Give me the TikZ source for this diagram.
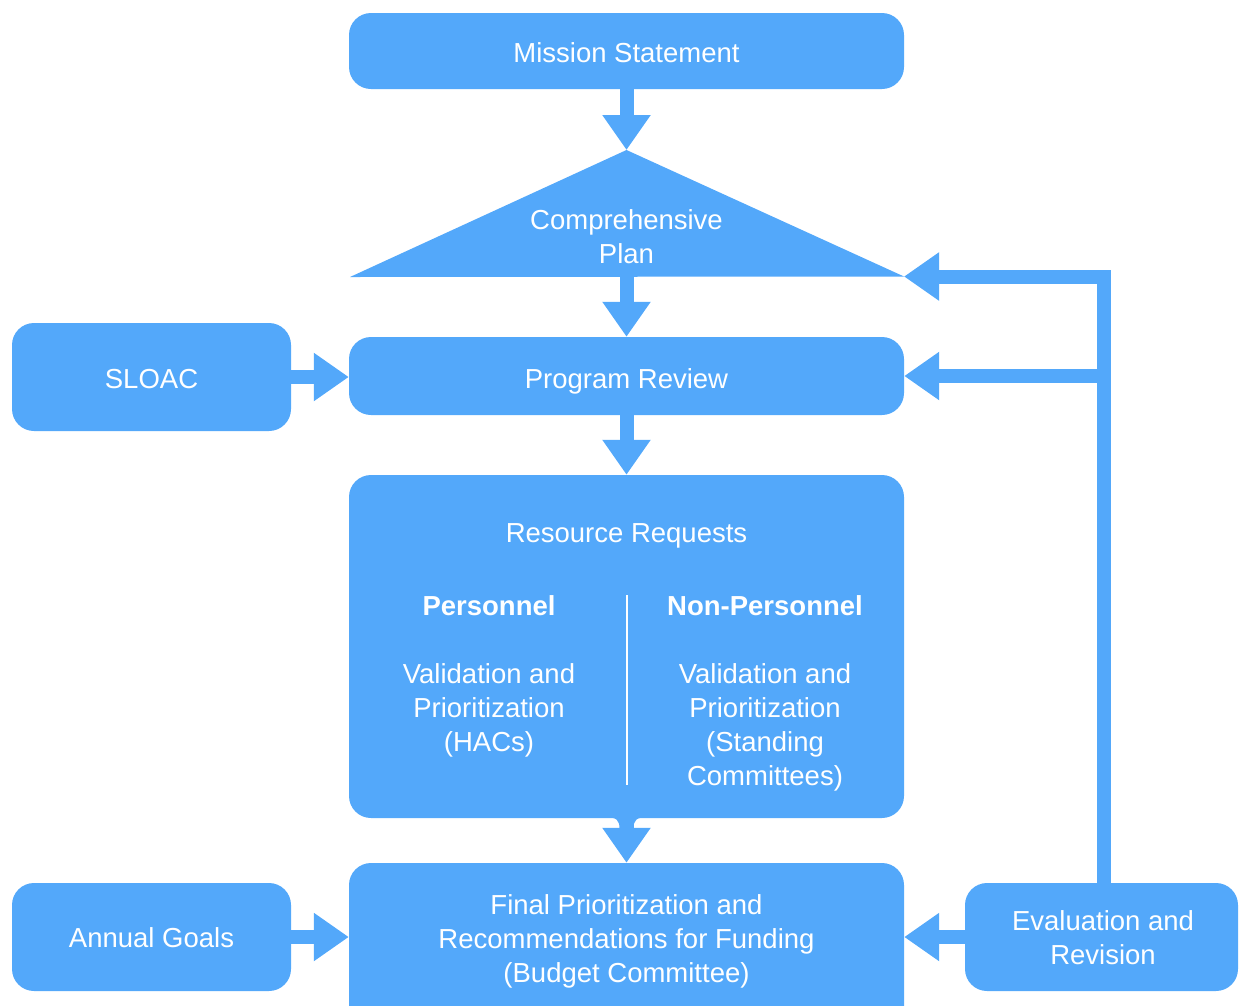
\documentclass[tikz,border=0pt]{standalone}
\usepackage{fontspec}
\setmainfont{Liberation Sans}
\usetikzlibrary{arrows.meta,calc}
\definecolor{fc}{HTML}{53A8FA}
\begin{document}
\begin{tikzpicture}[x=1pt,y=-1pt,
  box/.style={fill=fc, rounded corners=22pt, inner sep=0pt},
  lbl/.style={text=white, align=center, inner sep=0pt, font=\fontsize{27.5}{34}\selectfont},
  blbl/.style={lbl, font=\fontsize{27.5}{34}\selectfont\bfseries},
  flow/.style={draw=fc, line width=14pt, -{Triangle[width=46pt,length=35pt]}, line join=miter}]
\useasboundingbox (0,0) rectangle (1241,1005);
\clip (0,0) rectangle (1241,1005);

% boxes
\node[box, minimum width=555pt, minimum height=76pt] (ms) at (626.5,51) {};
\node[lbl] (mst) at (626.5,53) {Mission Statement};
\coordinate (apex) at (626.5,150);
\coordinate (tl) at (350,277);
\coordinate (tr) at (904,276.5);
\coordinate (tb) at (626.5,277);
\fill[fc] (apex) -- (tr) -- (tl) -- cycle;
\node[lbl] (cp) at (626.5,237) {Comprehensive\\Plan};

\node[box, minimum width=555pt, minimum height=78pt] (pr) at (626.5,376) {};
\node[lbl] (prt) at (626.5,381) {Program Review};
\node[box, minimum width=279pt, minimum height=108pt] (sl) at (151.5,377) {};
\node[lbl] (slt) at (151.5,379) {SLOAC};

\node[box, minimum width=555pt, minimum height=343pt] (rr) at (626.5,646.5) {};
\node[lbl] (rrt) at (626.5,536) {Resource Requests};
\node[blbl] (pers) at (489,606) {Personnel};
\node[blbl] (npers) at (765,606) {Non-Personnel};
\node[lbl, anchor=north] (pv) at (489,663) {Validation and\\Prioritization\\(HACs)};
\node[lbl, anchor=north] (npv) at (765,663) {Validation and\\Prioritization\\(Standing\\Committees)};
\coordinate (dv1) at (627,595);
\coordinate (dv2) at (627,785);
\draw[white, line width=1.5pt] (dv1) -- (dv2);
% fillets where the shaft leaves the box
\fill[fc] (604,817) .. controls (617,817) and (619.5,820) .. (619.5,829) -- (633.5,829) .. controls (633.5,820) and (636,817) .. (649,817) -- cycle;

\node[box, minimum width=555pt, minimum height=167pt] (fin) at (626.5,946.5) {};
\node[lbl] (fint) at (626.5,941) {Final Prioritization and\\Recommendations for Funding\\(Budget Committee)};
\node[box, minimum width=279pt, minimum height=108pt] (ag) at (151.5,937) {};
\node[lbl] (agt) at (151.5,938) {Annual Goals};
\node[box, minimum width=273pt, minimum height=108pt] (ev) at (1101.5,937) {};
\node[lbl] (evt) at (1103,938) {Evaluation and\\Revision};

% connectors
\draw[flow] (ms.south) -- (apex);
\draw[flow] (tb) -- (pr.north);
\draw[flow] (pr.south) -- (rr.north);
\draw[flow] ([yshift=4pt]rr.south) -- (fin.north);
\draw[flow] (sl.east) -- (sl.east -| pr.west);
\draw[flow] (ag.east) -- (ag.east -| fin.west);
\draw[flow] (ev.west) -- (ev.west -| fin.east);
\coordinate (fb) at (1104,276.5);
\draw[flow] (ev.north -| fb) -- (fb) -- (tr);
\draw[flow] (fb |- pr.east) -- (pr.east);
\end{tikzpicture}
\end{document}
